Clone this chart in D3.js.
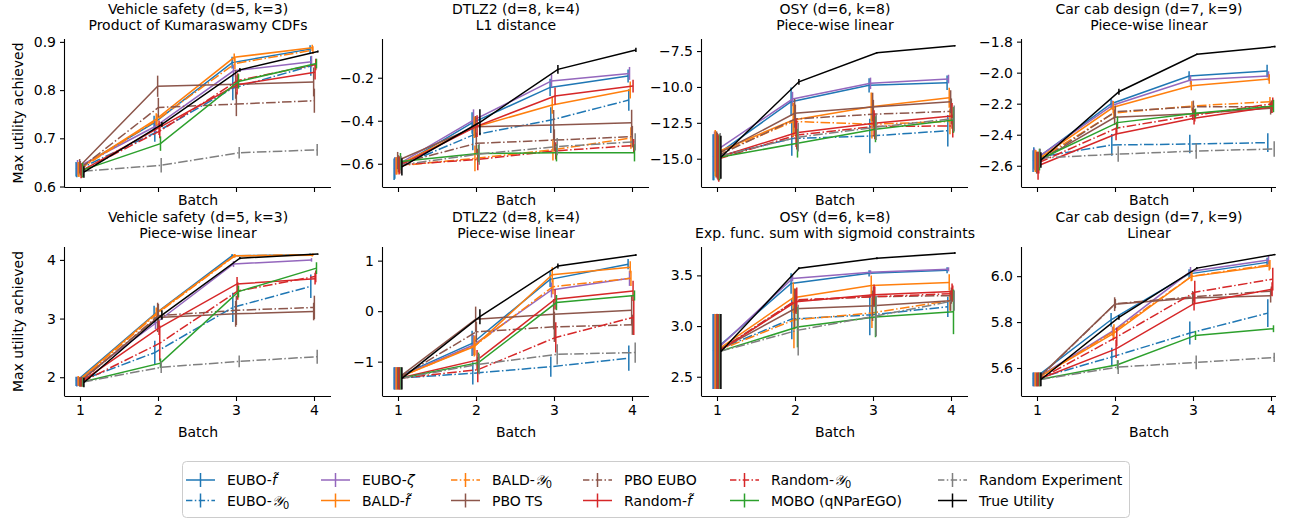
<!DOCTYPE html>
<html><head><meta charset="utf-8">
<script src="https://cdn.jsdelivr.net/npm/d3@7"></script>
<style>
body{margin:0;background:#fff}
svg{display:block}
text{font-family:"DejaVu Sans",sans-serif;fill:#000}
</style>
</head><body>
<svg id="chart" width="1294" height="523"></svg>
<script>
// ---------------- data ----------------
const batches = [1, 2, 3, 4];
const methods = ["EUBO-f̃", "EUBO-𝒴0", "EUBO-ζ", "BALD-f̃", "BALD-𝒴0", "PBO TS", "PBO EUBO",
                 "Random-f̃", "Random-𝒴0", "MOBO (qNParEGO)", "Random Experiment", "True Utility"];

// Panel 1: Vehicle safety / Kumaraswamy
const p1Mean = [
  [0.636, 0.732, 0.857, 0.885], [0.634, 0.711, 0.804, 0.850], [0.640, 0.725, 0.840, 0.859],
  [0.636, 0.740, 0.868, 0.888], [0.635, 0.738, 0.855, 0.883], [0.642, 0.808, 0.812, 0.817],
  [0.638, 0.764, 0.771, 0.778], [0.632, 0.722, 0.811, 0.837], [0.633, 0.715, 0.820, 0.853],
  [0.634, 0.689, 0.818, 0.855], [0.632, 0.644, 0.670, 0.676], [0.630, 0.729, 0.842, 0.880]];
const p1Err = [
  [0.015, 0.015, 0.012, 0.008], [0.015, 0.018, 0.025, 0.02], [0.015, 0.012, 0.012, 0.012],
  [0.015, 0.012, 0.008, 0.006], [0.015, 0.012, 0.012, 0.008], [0.015, 0.022, 0.03, 0.03],
  [0.015, 0.02, 0.025, 0.025], [0.015, 0.015, 0.02, 0.015], [0.015, 0.015, 0.015, 0.012],
  [0.015, 0.015, 0.015, 0.01], [0.01, 0.015, 0.012, 0.012], [0.012, 0.005, 0.004, 0.002]];
const p1Ticks = [0.6, 0.7, 0.8, 0.9];

// Panel 2: DTLZ2 / L1 distance
const p2Mean = [
  [-0.625, -0.41, -0.245, -0.192], [-0.62, -0.467, -0.397, -0.304], [-0.61, -0.397, -0.215, -0.18],
  [-0.61, -0.43, -0.327, -0.257], [-0.61, -0.575, -0.535, -0.48], [-0.585, -0.428, -0.42, -0.409],
  [-0.60, -0.505, -0.49, -0.474], [-0.61, -0.425, -0.285, -0.239], [-0.605, -0.58, -0.54, -0.515],
  [-0.59, -0.552, -0.549, -0.549], [-0.605, -0.555, -0.52, -0.498], [-0.614, -0.407, -0.161, -0.071]];
const p2Err = [
  [0.05, 0.05, 0.04, 0.03], [0.05, 0.07, 0.06, 0.05], [0.04, 0.05, 0.03, 0.03],
  [0.04, 0.05, 0.04, 0.04], [0.04, 0.06, 0.05, 0.05], [0.04, 0.05, 0.07, 0.06],
  [0.04, 0.05, 0.05, 0.05], [0.04, 0.05, 0.04, 0.03], [0.04, 0.05, 0.04, 0.03],
  [0.04, 0.04, 0.04, 0.04], [0.04, 0.05, 0.04, 0.04], [0.04, 0.06, 0.02, 0.01]];
const p2Ticks = [-0.6, -0.4, -0.2];

// Panel 3: OSY / Piece-wise linear
const p3Mean = [
  [-14.9, -11.03, -9.89, -9.71], [-14.9, -13.6, -13.42, -13.05], [-14.5, -10.84, -9.75, -9.45],
  [-14.6, -12.3, -11.38, -10.75], [-14.7, -12.4, -12.6, -12.4], [-14.7, -11.84, -11.4, -11.03],
  [-14.8, -12.23, -11.9, -11.7], [-14.9, -13.19, -12.53, -12.02], [-15.0, -13.35, -12.75, -12.72],
  [-14.9, -13.92, -12.95, -12.3], [-14.8, -13.5, -12.8, -12.2], [-14.9, -9.64, -7.62, -7.13]];
const p3Err = [
  [1.6, 1.0, 0.5, 0.5], [1.6, 1.2, 1.2, 1.1], [1.4, 0.5, 0.4, 0.3],
  [1.6, 1.2, 1.0, 0.7], [1.6, 1.0, 1.0, 0.9], [1.6, 1.0, 1.0, 0.8],
  [1.6, 1.0, 1.0, 0.9], [1.6, 1.0, 0.9, 0.9], [1.6, 1.0, 0.9, 0.8],
  [1.6, 1.0, 0.9, 0.9], [1.6, 1.0, 0.9, 0.9], [1.5, 0.2, 0.05, 0.05]];
const p3Ticks = [-15, -12.5, -10, -7.5];

// Panel 4: Car cab design / Piece-wise linear
const p4Mean = [
  [-2.57, -2.20, -2.021, -1.989], [-2.55, -2.466, -2.46, -2.451], [-2.56, -2.21, -2.047, -2.021],
  [-2.57, -2.223, -2.084, -2.041], [-2.57, -2.26, -2.215, -2.187], [-2.58, -2.288, -2.265, -2.23],
  [-2.58, -2.252, -2.22, -2.22], [-2.60, -2.395, -2.294, -2.22], [-2.58, -2.357, -2.275, -2.20],
  [-2.56, -2.322, -2.262, -2.215], [-2.55, -2.525, -2.505, -2.492], [-2.563, -2.123, -1.881, -1.832]];
const p4Err = [
  [0.07, 0.03, 0.03, 0.04], [0.07, 0.07, 0.06, 0.06], [0.07, 0.03, 0.03, 0.03],
  [0.07, 0.04, 0.03, 0.03], [0.07, 0.04, 0.03, 0.03], [0.07, 0.05, 0.04, 0.04],
  [0.07, 0.04, 0.04, 0.04], [0.09, 0.04, 0.04, 0.04], [0.07, 0.04, 0.04, 0.04],
  [0.07, 0.04, 0.03, 0.04], [0.06, 0.05, 0.05, 0.05], [0.05, 0.02, 0.005, 0.005]];
const p4Ticks = [-2.6, -2.4, -2.2, -2.0, -1.8];

// Panel 5: Vehicle safety / Piece-wise linear
const p5Mean = [
  [1.93, 3.07, 4.07, 4.09], [1.92, 2.42, 3.19, 3.55], [1.93, 2.92, 3.93, 4.00],
  [1.94, 3.09, 4.07, 4.08], [1.93, 3.08, 4.07, 4.09], [1.92, 3.02, 3.08, 3.12],
  [1.92, 3.05, 3.14, 3.19], [1.92, 2.84, 3.59, 3.68], [1.92, 2.58, 3.47, 3.72],
  [1.92, 2.24, 3.46, 3.86], [1.92, 2.17, 2.27, 2.35], [1.91, 3.06, 4.03, 4.10]];
const p5Err = [
  [0.08, 0.15, 0.03, 0.02], [0.08, 0.2, 0.25, 0.2], [0.08, 0.1, 0.05, 0.03],
  [0.08, 0.1, 0.03, 0.02], [0.08, 0.1, 0.03, 0.02], [0.08, 0.25, 0.22, 0.15],
  [0.08, 0.2, 0.25, 0.2], [0.08, 0.12, 0.12, 0.1], [0.08, 0.3, 0.15, 0.1],
  [0.08, 0.08, 0.1, 0.1], [0.08, 0.1, 0.1, 0.12], [0.08, 0.08, 0.02, 0.01]];
const p5Ticks = [2, 3, 4];

// Panel 6: DTLZ2 / Piece-wise linear
const p6Mean = [
  [-1.33, -0.64, 0.63, 0.93], [-1.33, -1.23, -1.10, -0.93], [-1.33, -0.67, 0.42, 0.65],
  [-1.33, -0.70, 0.72, 0.87], [-1.33, -0.68, 0.485, 0.65], [-1.33, -0.16, -0.06, 0.02],
  [-1.33, -0.41, -0.31, -0.27], [-1.33, -0.97, 0.235, 0.40], [-1.33, -1.16, -0.52, -0.12],
  [-1.33, -1.02, 0.17, 0.31], [-1.33, -1.05, -0.855, -0.82], [-1.33, -0.11, 0.895, 1.11]];
const p6Err = [
  [0.22, 0.25, 0.15, 0.1], [0.22, 0.22, 0.2, 0.25], [0.22, 0.2, 0.15, 0.15],
  [0.22, 0.2, 0.15, 0.12], [0.22, 0.2, 0.15, 0.15], [0.22, 0.25, 0.3, 0.3],
  [0.22, 0.2, 0.3, 0.2], [0.22, 0.2, 0.2, 0.2], [0.22, 0.25, 0.3, 0.35],
  [0.22, 0.2, 0.15, 0.1], [0.22, 0.2, 0.2, 0.2], [0.22, 0.15, 0.05, 0.02]];
const p6Ticks = [-1, 0, 1];

// Panel 7: OSY / Exp. func. sum with sigmoid constraints
const p7Mean = [
  [2.75, 3.42, 3.52, 3.55], [2.75, 3.07, 3.11, 3.19], [2.75, 3.47, 3.53, 3.56],
  [2.75, 3.28, 3.40, 3.43], [2.75, 3.06, 3.13, 3.25], [2.75, 3.17, 3.20, 3.25],
  [2.75, 3.25, 3.29, 3.30], [2.75, 3.24, 3.31, 3.34], [2.75, 3.26, 3.29, 3.32],
  [2.75, 2.99, 3.09, 3.14], [2.75, 2.96, 3.10, 3.25], [2.75, 3.57, 3.67, 3.72]];
const p7Err = [
  [0.37, 0.1, 0.03, 0.03], [0.37, 0.2, 0.2, 0.1], [0.37, 0.03, 0.02, 0.02],
  [0.37, 0.15, 0.1, 0.08], [0.37, 0.28, 0.15, 0.1], [0.37, 0.2, 0.15, 0.1],
  [0.37, 0.12, 0.1, 0.08], [0.37, 0.12, 0.1, 0.08], [0.37, 0.12, 0.1, 0.08],
  [0.37, 0.2, 0.2, 0.22], [0.37, 0.25, 0.2, 0.1], [0.37, 0.01, 0.01, 0.01]];
const p7Ticks = [2.5, 3.0, 3.5];

// Panel 8: Car cab design / Linear
const p8Mean = [
  [5.55, 5.81, 6.01, 6.06], [5.55, 5.648, 5.752, 5.839], [5.55, 5.76, 6.02, 6.07],
  [5.55, 5.75, 5.998, 6.045], [5.55, 5.76, 6.00, 6.05], [5.55, 5.878, 5.905, 5.915],
  [5.55, 5.88, 5.91, 5.935], [5.55, 5.683, 5.88, 5.943], [5.55, 5.735, 5.93, 5.987],
  [5.55, 5.614, 5.742, 5.771], [5.55, 5.604, 5.624, 5.646], [5.55, 5.82, 6.035, 6.094]];
const p8Err = [
  [0.03, 0.03, 0.02, 0.02], [0.03, 0.04, 0.05, 0.06], [0.03, 0.02, 0.02, 0.02],
  [0.03, 0.03, 0.02, 0.02], [0.03, 0.03, 0.02, 0.02], [0.03, 0.03, 0.03, 0.03],
  [0.03, 0.02, 0.02, 0.02], [0.03, 0.04, 0.03, 0.03], [0.03, 0.04, 0.05, 0.05],
  [0.03, 0.02, 0.02, 0.015], [0.03, 0.03, 0.03, 0.02], [0.03, 0.01, 0.005, 0.003]];
const p8Ticks = [5.6, 5.8, 6.0];

const titles = [
  ["Vehicle safety (d=5, k=3)", "Product of Kumaraswamy CDFs"],
  ["DTLZ2 (d=8, k=4)", "L1 distance"],
  ["OSY (d=6, k=8)", "Piece-wise linear"],
  ["Car cab design (d=7, k=9)", "Piece-wise linear"],
  ["Vehicle safety (d=5, k=3)", "Piece-wise linear"],
  ["DTLZ2 (d=8, k=4)", "Piece-wise linear"],
  ["OSY (d=6, k=8)", "Exp. func. sum with sigmoid constraints"],
  ["Car cab design (d=7, k=9)", "Linear"]];

// ---------------- styles / layout ----------------
const colors = ["#1f77b4", "#1f77b4", "#9467bd", "#ff7f0e", "#ff7f0e", "#8c564b", "#8c564b",
                "#d62728", "#d62728", "#2ca02c", "#7f7f7f", "#000000"];
const dashDot = [false, true, false, false, true, false, true, false, true, false, true, false];
const DASH = "9.6,2.4,1.5,2.4";
const LW = 1.5;
const FS = 14;

const panels = [
  {mean: p1Mean, err: p1Err, ticks: p1Ticks, fmt: ".1f", yDom: [0.599, 0.906]},
  {mean: p2Mean, err: p2Err, ticks: p2Ticks, fmt: ".1f", yDom: [-0.708, -0.02]},
  {mean: p3Mean, err: p3Err, ticks: p3Ticks, fmt: ".1f", yDom: [-16.97, -6.66]},
  {mean: p4Mean, err: p4Err, ticks: p4Ticks, fmt: ".1f", yDom: [-2.737, -1.783]},
  {mean: p5Mean, err: p5Err, ticks: p5Ticks, fmt: "d", yDom: [1.68, 4.22]},
  {mean: p6Mean, err: p6Err, ticks: p6Ticks, fmt: "d", yDom: [-1.68, 1.27]},
  {mean: p7Mean, err: p7Err, ticks: p7Ticks, fmt: ".1f", yDom: [2.31, 3.78]},
  {mean: p8Mean, err: p8Err, ticks: p8Ticks, fmt: ".1f", yDom: [5.478, 6.127]}];

const colLeft = [65, 383, 702, 1022];
const colRight = [331, 649, 968, 1276];
const rowTop = [39, 247];
const rowBottom = [187, 396];
const xOffsets = methods.map((_, i) => (i - 5.5) * 0.0091);

const svg = d3.select("#chart");

function addLabel(sel, name, fs) {
  // renders f̃, 𝒴0 and ζ in math style
  const parts = name.split(/(f̃|𝒴0|ζ)/).filter(s => s.length);
  parts.forEach(p => {
    if (p === "f̃") {
      sel.append("tspan").attr("font-style", "italic").text("f̃");
    } else if (p === "𝒴0") {
      sel.append("tspan").attr("font-family", "DejaVu Serif, serif").attr("font-style", "italic").text("𝒴");
      sel.append("tspan").attr("font-size", fs * 0.7).attr("dy", 3).text("0");
    } else if (p === "ζ") {
      sel.append("tspan").attr("font-style", "italic").text("ζ");
    } else {
      sel.append("tspan").text(p);
    }
  });
}

panels.forEach((P, pi) => {
  const row = Math.floor(pi / 4), col = pi % 4;
  const left = colLeft[col], right = colRight[col];
  const top = rowTop[row], bottom = rowBottom[row];
  const x0 = left + 15;
  const x = d3.scaleLinear().domain([1, 4]).range([x0, x0 + 234]);
  const y = d3.scaleLinear().domain(P.yDom).range([bottom, top]);
  const g = svg.append("g");

  // y axis
  const yAxis = d3.axisLeft(y).tickValues(P.ticks).tickFormat(d3.format(P.fmt))
    .tickSize(5).tickPadding(4);
  const ya = g.append("g").attr("transform", `translate(${left},0)`).call(yAxis);
  ya.select(".domain").attr("d", `M-0.5,${top}V${bottom}`).attr("stroke", "#000").attr("stroke-width", 1.1);
  ya.selectAll(".tick line").attr("stroke", "#000").attr("stroke-width", 1.1);
  ya.selectAll(".tick text").attr("font-size", FS).attr("font-family", "DejaVu Sans").attr("fill", "#000");

  // x axis
  const xAxis = d3.axisBottom(x).tickValues(batches).tickSize(5).tickPadding(4)
    .tickFormat(row === 1 ? d3.format("d") : () => "");
  const xa = g.append("g").attr("transform", `translate(0,${bottom})`).call(xAxis);
  xa.select(".domain").attr("d", `M${left - 0.5},0.5H${right}`).attr("stroke", "#000").attr("stroke-width", 1.1);
  xa.selectAll(".tick line").attr("stroke", "#000").attr("stroke-width", 1.1);
  xa.selectAll(".tick text").attr("font-size", FS).attr("font-family", "DejaVu Sans").attr("fill", "#000");
  if (row === 0) xa.selectAll(".tick text").remove();

  // x label
  g.append("text").attr("x", (left + right) / 2).attr("y", bottom + (row === 1 ? 41 : 18))
    .attr("text-anchor", "middle").attr("font-size", FS).text("Batch");

  // y label
  if (col === 0) {
    g.append("text").attr("transform", `translate(23,${(top + bottom) / 2}) rotate(-90)`)
      .attr("text-anchor", "middle").attr("font-size", FS).text("Max utility achieved");
  }

  // title
  const cx = (left + right) / 2;
  g.append("text").attr("x", cx).attr("y", top - 24.6).attr("text-anchor", "middle")
    .attr("font-size", FS).text(titles[pi][0]);
  g.append("text").attr("x", cx).attr("y", top - 8.6).attr("text-anchor", "middle")
    .attr("font-size", FS).text(titles[pi][1]);

  // series
  const line = d3.line().x(d => x(d.b)).y(d => y(d.m));
  methods.forEach((m, i) => {
    const pts = batches.map((b, j) => ({b: b + xOffsets[i], m: P.mean[i][j], e: P.err[i][j]}));
    const sg = g.append("g");
    sg.append("path").attr("d", line(pts)).attr("fill", "none").attr("stroke", colors[i])
      .attr("stroke-width", LW).attr("stroke-dasharray", dashDot[i] ? DASH : null);
    sg.selectAll("line.eb").data(pts).join("line").attr("class", "eb")
      .attr("x1", d => x(d.b)).attr("x2", d => x(d.b))
      .attr("y1", d => y(d.m - d.e)).attr("y2", d => y(d.m + d.e))
      .attr("stroke", colors[i]).attr("stroke-width", LW);
  });
});

// ---------------- legend ----------------
const LFS = 14;
const leg = svg.append("g");
leg.append("rect").attr("x", 182.5).attr("y", 461.5).attr("width", 947).attr("height", 56)
  .attr("rx", 4).attr("fill", "#fff").attr("stroke", "#cccccc").attr("stroke-width", 1);
const rowsY = [480, 500.5];
const legCols = [186, 321, 451, 583, 730, 938];
legCols.forEach((cxPos, c) => {
  for (let r = 0; r < 2; r++) {
    const i = c * 2 + r;
    const yy = rowsY[r];
    leg.append("line").attr("x1", cxPos).attr("x2", cxPos + 29).attr("y1", yy).attr("y2", yy)
      .attr("stroke", colors[i]).attr("stroke-width", LW).attr("stroke-dasharray", dashDot[i] ? "6.4,2.4,1.5,2.4" : null);
    leg.append("line").attr("x1", cxPos + 14.5).attr("x2", cxPos + 14.5).attr("y1", yy - 7).attr("y2", yy + 7)
      .attr("stroke", colors[i]).attr("stroke-width", LW);
    const t = leg.append("text").attr("x", cxPos + 41).attr("y", yy + 5).attr("font-size", LFS);
    addLabel(t, methods[i], LFS);
  }
});
</script>
</body></html>
